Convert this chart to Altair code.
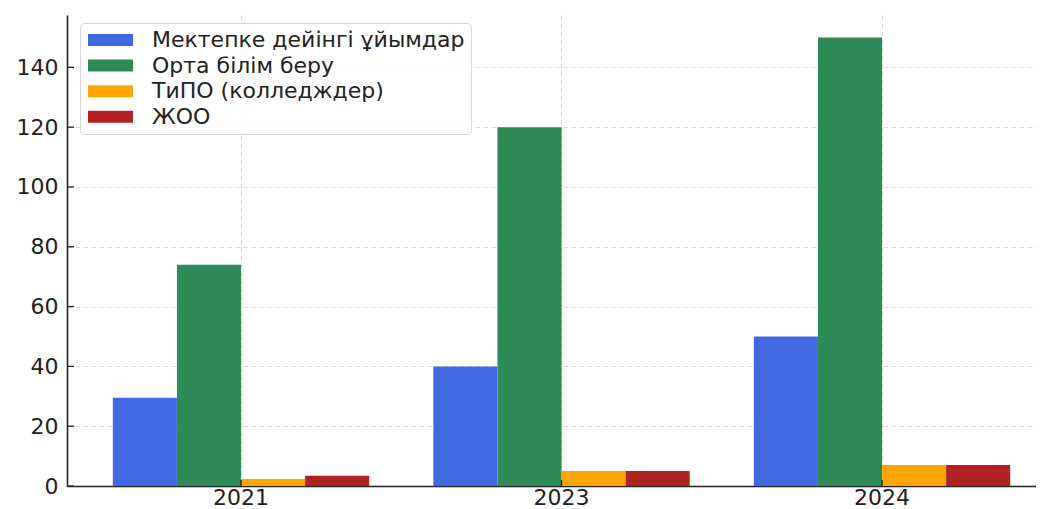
import altair as alt
import pandas as pd

years = ["2021", "2023", "2024"]
series = ["Мектепке дейінгі ұйымдар", "Орта білім беру", "ТиПО (колледждер)", "ЖОО"]
preschool = [29.5, 40, 50]
secondary = [74, 120, 150]
tipo = [2.3, 5, 7]
zhoo = [3.4, 5, 7]
colors = ["#4169E1", "#2E8B57", "#FFA500", "#B22222"]
y_ticks = [0, 20, 40, 60, 80, 100, 120, 140]

rows = []
for name, vals in zip(series, [preschool, secondary, tipo, zhoo]):
    for yr, v in zip(years, vals):
        rows.append({"year": yr, "series": name, "value": v})
df = pd.DataFrame(rows)

W, H = 969, 471
FONT = "DejaVu Sans"

xscale = alt.Scale(domain=years, paddingInner=0.2, paddingOuter=0.1117, align=0.64, round=False)
yscale = alt.Scale(domain=[0, 157.5], nice=False, zero=True)

bars = alt.Chart(df).mark_bar().encode(
    x=alt.X("year:N", sort=years, scale=xscale,
            axis=alt.Axis(title=None, labelAngle=0, ticks=False, labelFontSize=22, labelPadding=1,
                          labelFont=FONT, labelColor="#222", grid=True, gridDash=[5, 3],
                          gridColor="#dcdcdc", gridWidth=1.2, domainColor="#222", domainWidth=1.6)),
    xOffset=alt.XOffset("series:N", sort=series, scale=alt.Scale(domain=series, paddingInner=0, paddingOuter=0)),
    y=alt.Y("value:Q", scale=yscale,
            axis=alt.Axis(values=y_ticks, title=None, ticks=False, labelPadding=9, labelFontSize=22,
                          labelFont=FONT, labelColor="#222", grid=True, gridDash=[5, 3],
                          gridColor="#dcdcdc", gridWidth=1.2, domainColor="#222", domainWidth=1.6)),
    color=alt.Color("series:N", sort=series, scale=alt.Scale(domain=series, range=colors),
                    legend=alt.Legend(title=None, orient="none", legendX=13, legendY=8,
                                      symbolType="M-1.5,-1L6,-1L6,1L-1.5,1Z", symbolSize=144,
                                      symbolStrokeWidth=0, symbolOpacity=1, labelFontSize=22, labelFont=FONT,
                                      labelColor="#222", labelOffset=44, rowPadding=3.6, padding=6,
                                      strokeColor="#d5d5d5", fillColor="#ffffffdd", cornerRadius=4,
                                      labelLimit=0)),
)

ytick_rules = alt.Chart(pd.DataFrame({"value": y_ticks})).mark_rule(color="#222", strokeWidth=1.3).encode(
    y=alt.Y("value:Q"), x=alt.value(0), x2=alt.value(7)
)

xtick_rules = alt.Chart(pd.DataFrame({"year": years})).mark_rule(color="#222", strokeWidth=1.3).encode(
    x=alt.X("year:N", sort=years), y=alt.value(H - 6), y2=alt.value(H)
)

chart = alt.layer(bars, ytick_rules, xtick_rules).properties(
    width=W, height=H,
    autosize=alt.AutoSizeParams(type="none"),
    padding={"left": 59, "top": 7, "right": 0, "bottom": 30},
    background="white",
).configure_view(stroke=None)

chart.save("out.html", embed_options={"renderer": "svg", "actions": False})
